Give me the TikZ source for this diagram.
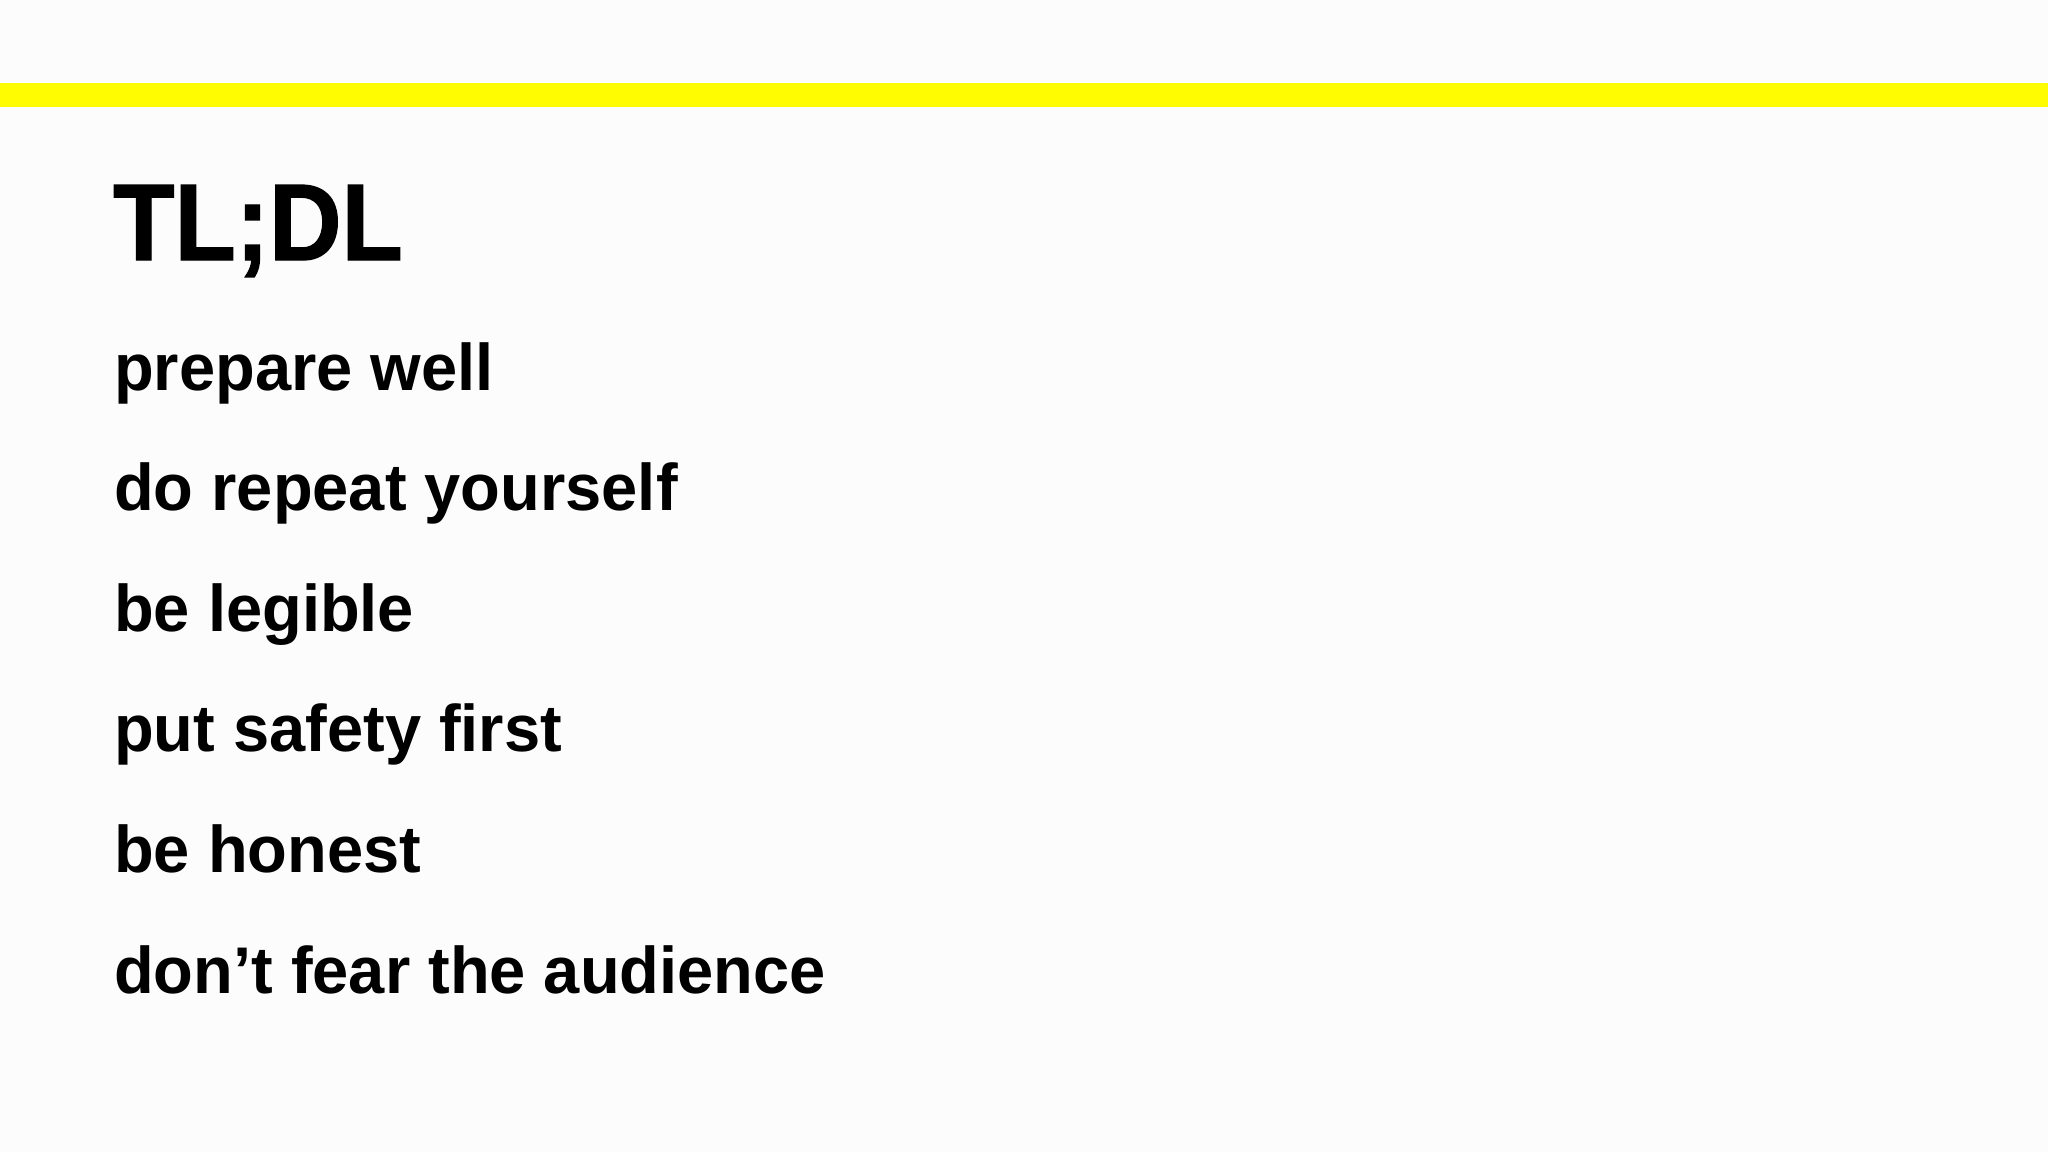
\documentclass[tikz,border=0pt]{standalone}
\usepackage{fontspec}
\setmainfont{Liberation Sans}
\newfontfamily\titlefont{Liberation Sans Bold}[FakeStretch=0.92,FakeBold=1.2]
\newfontfamily\bodyfont{Liberation Sans Bold}[FakeStretch=0.985]
\definecolor{barYellow}{RGB}{255,251,0}
\definecolor{pageBg}{RGB}{251,252,251}
\definecolor{inkBlack}{RGB}{0,0,0}
\begin{document}
\begin{tikzpicture}[x=1pt,y=-1pt,
  titletext/.style={anchor=base west,inner sep=0pt,text=inkBlack,font=\titlefont\fontsize{109}{109}\selectfont},
  bodytext/.style={anchor=base west,inner sep=0pt,text=inkBlack,font=\bodyfont\fontsize{66}{66}\selectfont}]
\useasboundingbox (0,0) rectangle (2048,1152);
\fill[pageBg] (0,0) rectangle (2048,1152);
\fill[barYellow] (0,83) rectangle (2048,107);
\node[titletext] (title) at (113,260) {TL;DL};
\node[bodytext] (l1) at (114,390) {prepare well};
\node[bodytext] (l2) at (114,510.6) {do repeat yourself};
\node[bodytext] (l3) at (114,631.2) {be legible};
\node[bodytext] (l4) at (114,751.8) {put safety first};
\node[bodytext] (l5) at (114,872.4) {be honest};
\node[bodytext] (l6) at (114,993) {don’t fear the audience};
\end{tikzpicture}
\end{document}
